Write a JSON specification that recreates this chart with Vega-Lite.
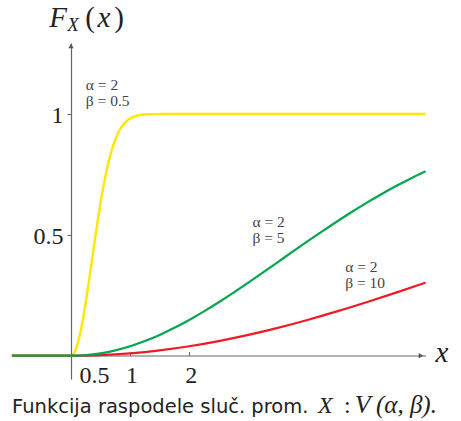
{
  "$schema": "https://vega.github.io/schema/vega-lite/v6.json",
  "width": 461,
  "height": 421,
  "autosize": "none",
  "padding": 0,
  "background": "white",
  "config": {"view": {"stroke": null}},
  "datasets": {
    "curves": [
      {"x": -1, "y": 0, "beta": 0.5},
      {"x": 0, "y": 0, "beta": 0.5},
      {"x": 0.05, "y": 0.00995, "beta": 0.5},
      {"x": 0.1, "y": 0.0392, "beta": 0.5},
      {"x": 0.15, "y": 0.0861, "beta": 0.5},
      {"x": 0.2, "y": 0.1479, "beta": 0.5},
      {"x": 0.25, "y": 0.2212, "beta": 0.5},
      {"x": 0.3, "y": 0.3023, "beta": 0.5},
      {"x": 0.35, "y": 0.3874, "beta": 0.5},
      {"x": 0.4, "y": 0.4727, "beta": 0.5},
      {"x": 0.45, "y": 0.5551, "beta": 0.5},
      {"x": 0.5, "y": 0.6321, "beta": 0.5},
      {"x": 0.55, "y": 0.7018, "beta": 0.5},
      {"x": 0.6, "y": 0.7631, "beta": 0.5},
      {"x": 0.65, "y": 0.8155, "beta": 0.5},
      {"x": 0.7, "y": 0.8591, "beta": 0.5},
      {"x": 0.75, "y": 0.8946, "beta": 0.5},
      {"x": 0.8, "y": 0.9227, "beta": 0.5},
      {"x": 0.85, "y": 0.9444, "beta": 0.5},
      {"x": 0.9, "y": 0.9608, "beta": 0.5},
      {"x": 0.95, "y": 0.9729, "beta": 0.5},
      {"x": 1.0, "y": 0.9817, "beta": 0.5},
      {"x": 1.1, "y": 0.9921, "beta": 0.5},
      {"x": 1.2, "y": 0.9969, "beta": 0.5},
      {"x": 1.3, "y": 0.9988, "beta": 0.5},
      {"x": 1.4, "y": 0.9996, "beta": 0.5},
      {"x": 1.6, "y": 1.0, "beta": 0.5},
      {"x": 6, "y": 1.0, "beta": 0.5},
      {"x": -1, "y": 0, "beta": 10},
      {"x": 0, "y": 0, "beta": 10},
      {"x": 0.5, "y": 0.0025, "beta": 10},
      {"x": 1, "y": 0.00995, "beta": 10},
      {"x": 1.5, "y": 0.02225, "beta": 10},
      {"x": 2, "y": 0.0392, "beta": 10},
      {"x": 2.5, "y": 0.0606, "beta": 10},
      {"x": 3, "y": 0.0861, "beta": 10},
      {"x": 3.5, "y": 0.1153, "beta": 10},
      {"x": 4, "y": 0.1479, "beta": 10},
      {"x": 4.5, "y": 0.1833, "beta": 10},
      {"x": 5, "y": 0.2212, "beta": 10},
      {"x": 5.5, "y": 0.2610, "beta": 10},
      {"x": 6, "y": 0.3023, "beta": 10},
      {"x": -1, "y": 0, "beta": 5},
      {"x": 0, "y": 0, "beta": 5},
      {"x": 0.25, "y": 0.0025, "beta": 5},
      {"x": 0.5, "y": 0.00995, "beta": 5},
      {"x": 0.75, "y": 0.02225, "beta": 5},
      {"x": 1, "y": 0.0392, "beta": 5},
      {"x": 1.25, "y": 0.0606, "beta": 5},
      {"x": 1.5, "y": 0.0861, "beta": 5},
      {"x": 1.75, "y": 0.1153, "beta": 5},
      {"x": 2, "y": 0.1479, "beta": 5},
      {"x": 2.25, "y": 0.1833, "beta": 5},
      {"x": 2.5, "y": 0.2212, "beta": 5},
      {"x": 2.75, "y": 0.2610, "beta": 5},
      {"x": 3, "y": 0.3023, "beta": 5},
      {"x": 3.25, "y": 0.3446, "beta": 5},
      {"x": 3.5, "y": 0.3874, "beta": 5},
      {"x": 3.75, "y": 0.4302, "beta": 5},
      {"x": 4, "y": 0.4727, "beta": 5},
      {"x": 4.25, "y": 0.5145, "beta": 5},
      {"x": 4.5, "y": 0.5551, "beta": 5},
      {"x": 4.75, "y": 0.5944, "beta": 5},
      {"x": 5, "y": 0.6321, "beta": 5},
      {"x": 5.25, "y": 0.6679, "beta": 5},
      {"x": 5.5, "y": 0.7018, "beta": 5},
      {"x": 5.75, "y": 0.7335, "beta": 5},
      {"x": 6, "y": 0.7631, "beta": 5}
    ],
    "arrows": [
      {"x": 5.922, "y": 0, "axis": "x"},
      {"x": 0, "y": 1.281, "axis": "y"}
    ],
    "params": [
      {"x": 0.25, "y": 1.1, "text": "α = 2\nβ = 0.5"},
      {"x": 3.07, "y": 0.532, "text": "α = 2\nβ = 5"},
      {"x": 4.64, "y": 0.346, "text": "α = 2\nβ = 10"}
    ],
    "mathItalic": [
      {"x": -0.22, "y": 1.36, "text": "F"},
      {"x": 0.558, "y": 1.36, "text": "x"},
      {"x": 6.277, "y": -0.028, "text": "x"}
    ],
    "mathUpright": [
      {"x": 0.321, "y": 1.36, "text": "("},
      {"x": 0.812, "y": 1.36, "text": ")"}
    ],
    "mathSub": [
      {"x": 0.034, "y": 1.343, "text": "X"}
    ],
    "captionSans": [
      {"x": -0.998, "y": -0.237, "text": "Funkcija raspodele sluč. prom."}
    ],
    "captionMathItalic": [
      {"x": 4.179, "y": -0.237, "text": "X"}
    ],
    "captionMathScript": [
      {"x": 4.80, "y": -0.237, "text": "V"}
    ],
    "captionMathUpright": [
      {"x": 4.619, "y": -0.237, "text": ":"}
    ],
    "captionMathTail": [
      {"x": 5.16, "y": -0.237, "text": "(α, β)."}
    ]
  },
  "encoding": {
    "x": {
      "field": "x",
      "type": "quantitative",
      "scale": {"domain": [0, 6], "range": [71, 425.6], "nice": false, "zero": false},
      "axis": {
        "orient": "bottom",
        "offset": -65.5,
        "title": null,
        "grid": false,
        "values": [0.5, 1, 2],
        "domainColor": "#666666",
        "domainWidth": 1.2,
        "tickColor": "#666666",
        "tickWidth": 1,
        "tickSize": -4,
        "labelPadding": 12,
        "labelFont": "Liberation Serif",
        "labelFontSize": 24,
        "labelColor": "#222222",
        "labelBaseline": "top",
        "labelFlush": false,
        "labelOverlap": false,
        "labelOffset": {"condition": {"test": "datum.value === 0.5", "value": -6.5}, "value": 1.5},
        "format": "~g"
      }
    },
    "y": {
      "field": "y",
      "type": "quantitative",
      "scale": {"domain": [-0.0964, 1.2937], "range": [379, 43], "nice": false, "zero": false},
      "axis": {
        "orient": "left",
        "offset": -71,
        "title": null,
        "grid": false,
        "values": [0.5, 1],
        "domainColor": "#666666",
        "domainWidth": 1.2,
        "tickColor": "#666666",
        "tickWidth": 1,
        "tickSize": 4,
        "labelPadding": 4,
        "labelFont": "Liberation Serif",
        "labelFontSize": 24,
        "labelColor": "#222222",
        "labelBaseline": "middle",
        "labelOffset": 2,
        "labelFlush": false,
        "labelOverlap": false,
        "format": "~g"
      }
    }
  },
  "layer": [
    {
      "data": {"name": "curves"},
      "transform": [{"filter": "datum.beta === 0.5"}],
      "mark": {"type": "line", "color": "#FFE800", "strokeWidth": 2.4, "interpolate": "monotone"}
    },
    {
      "data": {"name": "curves"},
      "transform": [{"filter": "datum.beta === 10"}],
      "mark": {"type": "line", "color": "#ED1C24", "strokeWidth": 2.2, "interpolate": "monotone"}
    },
    {
      "data": {"name": "curves"},
      "transform": [{"filter": "datum.beta === 5"}],
      "mark": {"type": "line", "color": "#00A650", "strokeWidth": 2.2, "interpolate": "monotone"}
    },
    {
      "data": {"name": "arrows"},
      "transform": [{"filter": "datum.axis === 'x'"}],
      "mark": {"type": "point", "shape": "triangle-right", "filled": true, "color": "#555555", "size": 28, "opacity": 1}
    },
    {
      "data": {"name": "arrows"},
      "transform": [{"filter": "datum.axis === 'y'"}],
      "mark": {"type": "point", "shape": "triangle-up", "filled": true, "color": "#555555", "size": 28, "opacity": 1}
    },
    {
      "data": {"name": "params"},
      "mark": {"type": "text", "font": "Liberation Serif", "fontSize": 15.5, "color": "#444444", "align": "left", "baseline": "alphabetic", "lineBreak": "\n", "lineHeight": 16},
      "encoding": {"text": {"field": "text"}}
    },
    {
      "data": {"name": "mathItalic"},
      "mark": {"type": "text", "font": "Liberation Serif", "fontStyle": "italic", "fontSize": 29, "color": "#222222", "align": "center", "baseline": "alphabetic"},
      "encoding": {"text": {"field": "text"}}
    },
    {
      "data": {"name": "mathUpright"},
      "mark": {"type": "text", "font": "Liberation Serif", "fontSize": 29, "color": "#222222", "align": "center", "baseline": "alphabetic"},
      "encoding": {"text": {"field": "text"}}
    },
    {
      "data": {"name": "mathSub"},
      "mark": {"type": "text", "font": "Liberation Serif", "fontStyle": "italic", "fontSize": 19, "color": "#222222", "align": "center", "baseline": "alphabetic"},
      "encoding": {"text": {"field": "text"}}
    },
    {
      "data": {"name": "captionSans"},
      "mark": {"type": "text", "font": "DejaVu Sans", "fontSize": 19.5, "color": "#222222", "align": "left", "baseline": "alphabetic"},
      "encoding": {"text": {"field": "text"}}
    },
    {
      "data": {"name": "captionMathItalic"},
      "mark": {"type": "text", "font": "Liberation Serif", "fontStyle": "italic", "fontSize": 24, "color": "#222222", "align": "left", "baseline": "alphabetic"},
      "encoding": {"text": {"field": "text"}}
    },
    {
      "data": {"name": "captionMathScript"},
      "mark": {"type": "text", "font": "Liberation Serif", "fontStyle": "italic", "fontSize": 26, "color": "#222222", "align": "left", "baseline": "alphabetic"},
      "encoding": {"text": {"field": "text"}}
    },
    {
      "data": {"name": "captionMathUpright"},
      "mark": {"type": "text", "font": "Liberation Serif", "fontSize": 24, "color": "#222222", "align": "left", "baseline": "alphabetic"},
      "encoding": {"text": {"field": "text"}}
    },
    {
      "data": {"name": "captionMathTail"},
      "mark": {"type": "text", "font": "Liberation Serif", "fontStyle": "italic", "fontSize": 25, "color": "#222222", "align": "left", "baseline": "alphabetic"},
      "encoding": {"text": {"field": "text"}}
    }
  ]
}
